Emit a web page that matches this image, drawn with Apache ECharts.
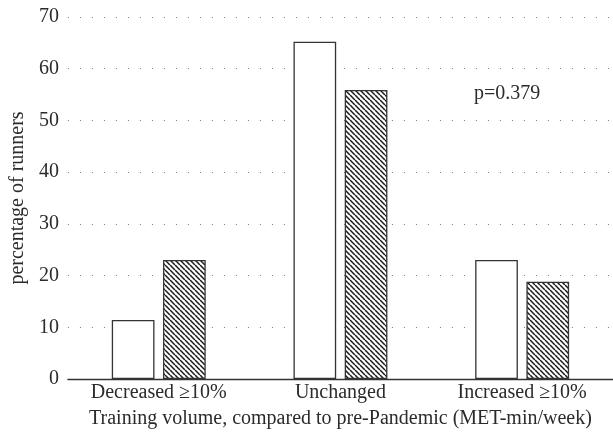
<!DOCTYPE html>
<html>
<head>
<meta charset="utf-8">
<script src="https://cdn.jsdelivr.net/npm/echarts@6/dist/echarts.min.js"></script>
<style>
  html, body { margin: 0; padding: 0; background: #fff; }
  #chart { width: 613px; height: 440px; }
</style>
</head>
<body>
<div id="chart"></div>
<script>
var categories = ['Decreased \u226510%', 'Unchanged', 'Increased \u226510%'];
var plainValues = [11.4, 65.2, 23.0];
var hatchedValues = [23.0, 55.9, 18.8];
var yTicks = [0, 10, 20, 30, 40, 50, 60, 70];

// diagonal hatch pattern
function makeHatch() {
  var s = 5;
  var c = document.createElement('canvas');
  c.width = s; c.height = s;
  var ctx = c.getContext('2d');
  ctx.fillStyle = '#fff';
  ctx.fillRect(0, 0, s, s);
  ctx.strokeStyle = '#1a1a1a';
  ctx.lineWidth = 1.5;
  for (var i = -1; i <= 1; i++) {
    ctx.beginPath();
    ctx.moveTo(i * s, 0);
    ctx.lineTo(i * s + s, s);
    ctx.stroke();
  }
  return c;
}

var font = 'Liberation Serif';
var txt = '#2b2b2b';
var chart = echarts.init(document.getElementById('chart'));
chart.setOption({
  animation: false,
  grid: { left: 65, right: -2, top: 17, bottom: 61 },
  xAxis: {
    type: 'category',
    data: categories,
    axisTick: { show: false },
    axisLine: { lineStyle: { color: '#333', width: 1.3 } },
    axisLabel: { color: txt, fontFamily: font, fontSize: 20, margin: 4 },
    name: 'Training volume, compared to pre-Pandemic (MET-min/week)',
    nameLocation: 'middle',
    nameGap: 30,
    nameTextStyle: { color: txt, fontFamily: font, fontSize: 20 }
  },
  yAxis: {
    type: 'value',
    min: yTicks[0],
    max: yTicks[yTicks.length - 1],
    interval: 10,
    axisLine: { show: false },
    axisTick: { show: false },
    axisLabel: { color: txt, fontFamily: font, fontSize: 20, margin: 9 },
    splitLine: { lineStyle: { color: '#777', type: [1, 11], width: 1 } },
    name: 'percentage of runners',
    nameLocation: 'middle',
    nameGap: 36,
    nameTextStyle: { color: txt, fontFamily: font, fontSize: 20 }
  },
  series: [{
    type: 'bar',
    data: plainValues,
    barWidth: '23.5%',
    barGap: '20%',
    itemStyle: { color: '#fff', borderColor: '#333', borderWidth: 1.3 }
  }, {
    type: 'bar',
    data: hatchedValues,
    barWidth: '23.5%',
    itemStyle: {
      color: { image: makeHatch(), repeat: 'repeat' },
      borderColor: '#333',
      borderWidth: 1.3
    }
  }],
  graphic: [{
    type: 'text',
    left: 474,
    top: 84,
    style: { text: 'p=0.379', fill: txt, font: '20px "Liberation Serif"' }
  }]
});
</script>
</body>
</html>
